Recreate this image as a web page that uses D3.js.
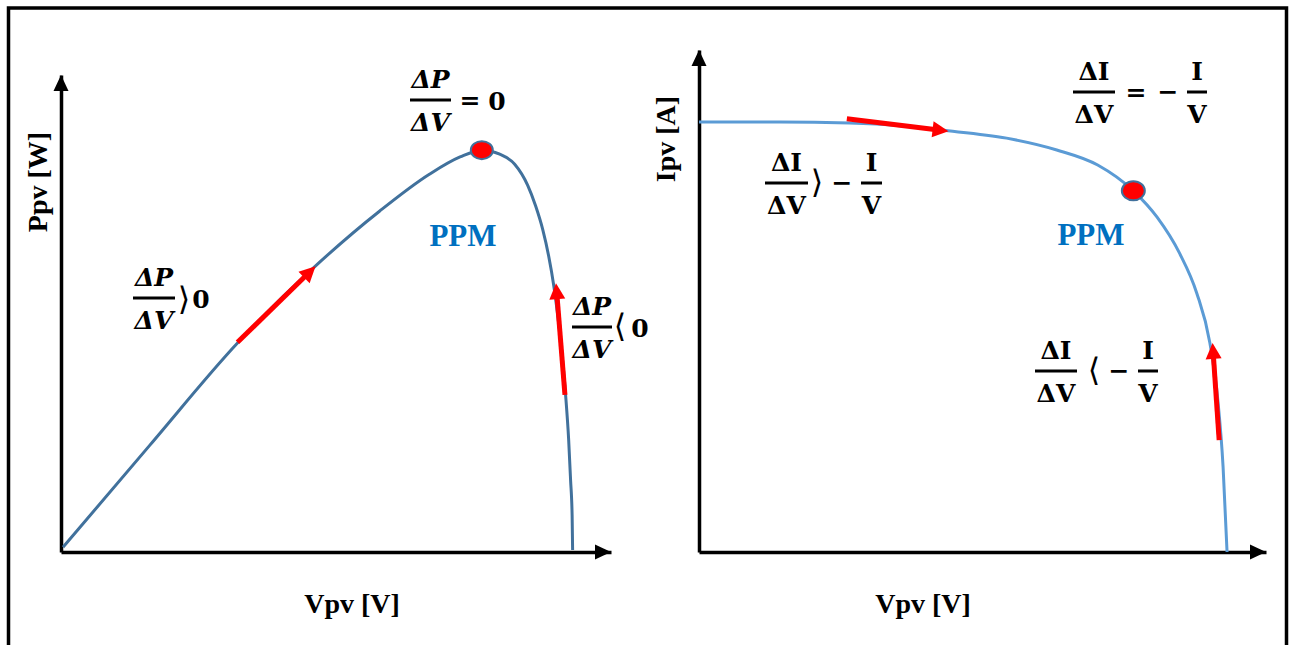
<!DOCTYPE html>
<html>
<head>
<meta charset="utf-8">
<script src="https://cdn.jsdelivr.net/npm/d3@7"></script>
<style>
body { margin: 0; background: #fff; }
</style>
</head>
<body>
<div id="chart"></div>
<script>
// <!-- ================================= -->
// <!-- DATA -->
// <!-- ================================= -->

// P-V curve (left panel)
var pvVoltage = [0.16, 6.95, 13.8, 19.8, 24.9, 28.8, 31.2, 32.9, 34.3, 35.47, 36.48, 37.11, 37.66, 38.13, 38.52, 38.83, 39.14, 39.45, 39.69, 39.84, 39.96, 40.0];
var pvPower = [1.2, 26.6, 52, 70.9, 84.8, 94, 98.3, 100, 99, 96.5, 91.3, 86.1, 80.3, 73.6, 66.4, 59.0, 50.2, 39.1, 27.9, 17.9, 9.2, 0.5];

// I-V curve (right panel)
var ivVoltage = [0, 6.1, 11.4, 15.2, 18.3, 23.3, 27.1, 30.2, 32.9, 34.7, 36.4, 37.7, 38.7, 39.3, 39.7, 40.0];
var ivCurrent = [8.0, 8.0, 7.98, 7.93, 7.85, 7.70, 7.48, 7.20, 6.72, 6.23, 5.56, 4.82, 3.89, 2.83, 1.58, 0];

// maximum power points
var pvMpp = [32.9, 100];
var ivMpp = [32.9, 6.72];

// red direction arrows [from, to], in data units
var pvArrows = [[[13.8, 52.2], [19.9, 71.1]], [[39.4, 39.1], [38.7, 66.9]]];
var ivArrows = [[[11.2, 8.06], [18.9, 7.83]], [[39.4, 2.08], [38.9, 3.89]]];

var axisTitles = ['Vpv [V]', 'Ppv [W]', 'Vpv [V]', 'Ipv [A]'];
var mppLabel = 'PPM';

// <!-- ================================= -->
// <!-- SETUP -->
// <!-- ================================= -->
var width = 1295;
var height = 645;

var svg = d3.select('#chart')
	.append('svg')
	.attr('width', width)
	.attr('height', height);

// outer frame (runs off the bottom of the picture)
svg.append('rect')
	.attr('x', 8.5)
	.attr('y', 8)
	.attr('width', 1278)
	.attr('height', 700)
	.attr('fill', 'none')
	.attr('stroke', '#000')
	.attr('stroke-width', 3.5);

var xL = d3.scaleLinear().domain([0, 43]).range([61, 611]);
var yL = d3.scaleLinear().domain([0, 118.7]).range([552, 75]);
var xR = d3.scaleLinear().domain([0, 42.95]).range([699, 1266]);
var yR = d3.scaleLinear().domain([0, 9.34]).range([552, 50]);

// axes with arrow heads, no ticks
const drawAxes = function (x, y) {
	var g = svg.append('g');
	g.append('g')
		.attr('transform', 'translate(0,' + y.range()[0] + ')')
		.call(d3.axisBottom(x).tickValues([]).tickSizeOuter(0));
	g.append('g')
		.attr('transform', 'translate(' + x.range()[0] + ',0)')
		.call(d3.axisLeft(y).tickValues([]).tickSizeOuter(0));
	g.selectAll('.domain')
		.attr('stroke', '#000')
		.attr('stroke-width', 3.5);

	var x1 = x.range()[1], y0 = y.range()[0], x0 = x.range()[0], y1 = y.range()[1];
	g.append('path') // x arrow
		.attr('d', 'M' + x1 + ',' + y0 + 'L' + (x1 - 16) + ',' + (y0 - 7.5) + 'L' + (x1 - 16) + ',' + (y0 + 7.5) + 'Z')
		.attr('fill', '#000');
	g.append('path') // y arrow
		.attr('d', 'M' + x0 + ',' + y1 + 'L' + (x0 - 7.5) + ',' + (y1 + 16) + 'L' + (x0 + 7.5) + ',' + (y1 + 16) + 'Z')
		.attr('fill', '#000');
};

drawAxes(xL, yL);
drawAxes(xR, yR);

// curves
const drawCurve = function (xs, ys, x, y, color) {
	var pts = xs.map(function (v, i) { return [v, ys[i]]; });
	var line = d3.line()
		.x(function (d) { return x(d[0]); })
		.y(function (d) { return y(d[1]); })
		.curve(d3.curveMonotoneX);
	svg.append('path')
		.datum(pts)
		.attr('d', line)
		.attr('fill', 'none')
		.attr('stroke', color)
		.attr('stroke-width', 3);
};

drawCurve(pvVoltage, pvPower, xL, yL, '#41719c');
drawCurve(ivVoltage, ivCurrent, xR, yR, '#5b9bd5');

// red arrows along the curves
const drawArrow = function (a, x, y) {
	var x0 = x(a[0][0]), y0 = y(a[0][1]), x1 = x(a[1][0]), y1 = y(a[1][1]);
	var len = Math.hypot(x1 - x0, y1 - y0);
	var ux = (x1 - x0) / len, uy = (y1 - y0) / len;
	var head = 16, half = 8;
	var bx = x1 - ux * head, by = y1 - uy * head;
	svg.append('line')
		.attr('x1', x0).attr('y1', y0)
		.attr('x2', bx + ux * 2).attr('y2', by + uy * 2)
		.attr('stroke', '#ff0000')
		.attr('stroke-width', 5);
	svg.append('path')
		.attr('d', 'M' + x1 + ',' + y1 +
			'L' + (bx - uy * half) + ',' + (by + ux * half) +
			'L' + (bx + uy * half) + ',' + (by - ux * half) + 'Z')
		.attr('fill', '#ff0000');
};

pvArrows.forEach(function (a) { drawArrow(a, xL, yL); });
ivArrows.forEach(function (a) { drawArrow(a, xR, yR); });

// MPP dots
svg.append('ellipse')
	.attr('cx', xL(pvMpp[0])).attr('cy', yL(pvMpp[1]))
	.attr('rx', 11).attr('ry', 9)
	.attr('fill', '#ff0000')
	.attr('stroke', '#41719c')
	.attr('stroke-width', 2);
svg.append('ellipse')
	.attr('cx', xR(ivMpp[0])).attr('cy', yR(ivMpp[1]))
	.attr('rx', 11.5).attr('ry', 9.5)
	.attr('fill', '#ff0000')
	.attr('stroke', '#41719c')
	.attr('stroke-width', 2);

// <!-- ================================= -->
// <!-- TEXT -->
// <!-- ================================= -->
var serif = '"Liberation Serif", "Times New Roman", serif';
var mathFont = '"DejaVu Serif", serif';

const label = function (x, y, txt, size, rotate, color) {
	return svg.append('text')
		.attr('transform', 'translate(' + x + ',' + y + ')' + (rotate ? ' rotate(-90)' : ''))
		.attr('text-anchor', 'middle')
		.attr('font-family', serif)
		.attr('font-weight', 'bold')
		.attr('font-size', size)
		.attr('fill', color || '#000')
		.text(txt);
};

label(352, 613, axisTitles[0], 28, false);
label(47, 182, axisTitles[1], 28, true);
label(923, 613, axisTitles[2], 28, false);
label(675, 139, axisTitles[3], 28, true);

label(463, 246, mppLabel, 31, false, '#0070c0');
label(1091, 245, mppLabel, 31, false, '#0070c0');

// math pieces
const mtext = function (x, y, txt, opts) {
	opts = opts || {};
	svg.append('text')
		.attr('x', x)
		.attr('y', y)
		.attr('text-anchor', 'middle')
		.attr('font-family', opts.family || mathFont)
		.attr('font-weight', opts.weight || 'bold')
		.attr('font-style', opts.italic ? 'italic' : 'normal')
		.attr('font-size', opts.size || 25)
		.text(txt);
};

// fraction: bar from x0 to x1 at height y
const frac = function (x0, x1, y, num, den, italic) {
	var cx = (x0 + x1) / 2;
	mtext(cx, y - 12, num, { italic: italic });
	svg.append('line')
		.attr('x1', x0).attr('x2', x1)
		.attr('y1', y).attr('y2', y)
		.attr('stroke', '#000')
		.attr('stroke-width', 3);
	mtext(cx, y + 31, den, { italic: italic });
};

var bracket = { family: '"DejaVu Sans", sans-serif', weight: 'normal', size: 32 };

// left panel
frac(410, 451, 100, 'ΔP', 'ΔV', true);
mtext(470, 109, '=');
mtext(497, 110, '0');

frac(133, 175, 298, 'ΔP', 'ΔV', true);
mtext(184, 310, '⟩', bracket);
mtext(201, 308, '0');

frac(572, 612, 327, 'ΔP', 'ΔV', true);
mtext(620, 337, '⟨', bracket);
mtext(640, 337, '0');

// right panel
frac(1073, 1115, 92, 'ΔI', 'ΔV', false);
mtext(1136, 101, '=');
mtext(1168, 100, '−');
frac(1187, 1207, 92, 'I', 'V', false);

frac(765, 808, 183, 'ΔI', 'ΔV', false);
mtext(817, 193, '⟩', bracket);
mtext(842, 191, '−');
frac(861, 882, 183, 'I', 'V', false);

frac(1035, 1077, 371, 'ΔI', 'ΔV', false);
mtext(1094, 381, '⟨', bracket);
mtext(1119, 379, '−');
frac(1138, 1158, 371, 'I', 'V', false);
</script>
</body>
</html>
